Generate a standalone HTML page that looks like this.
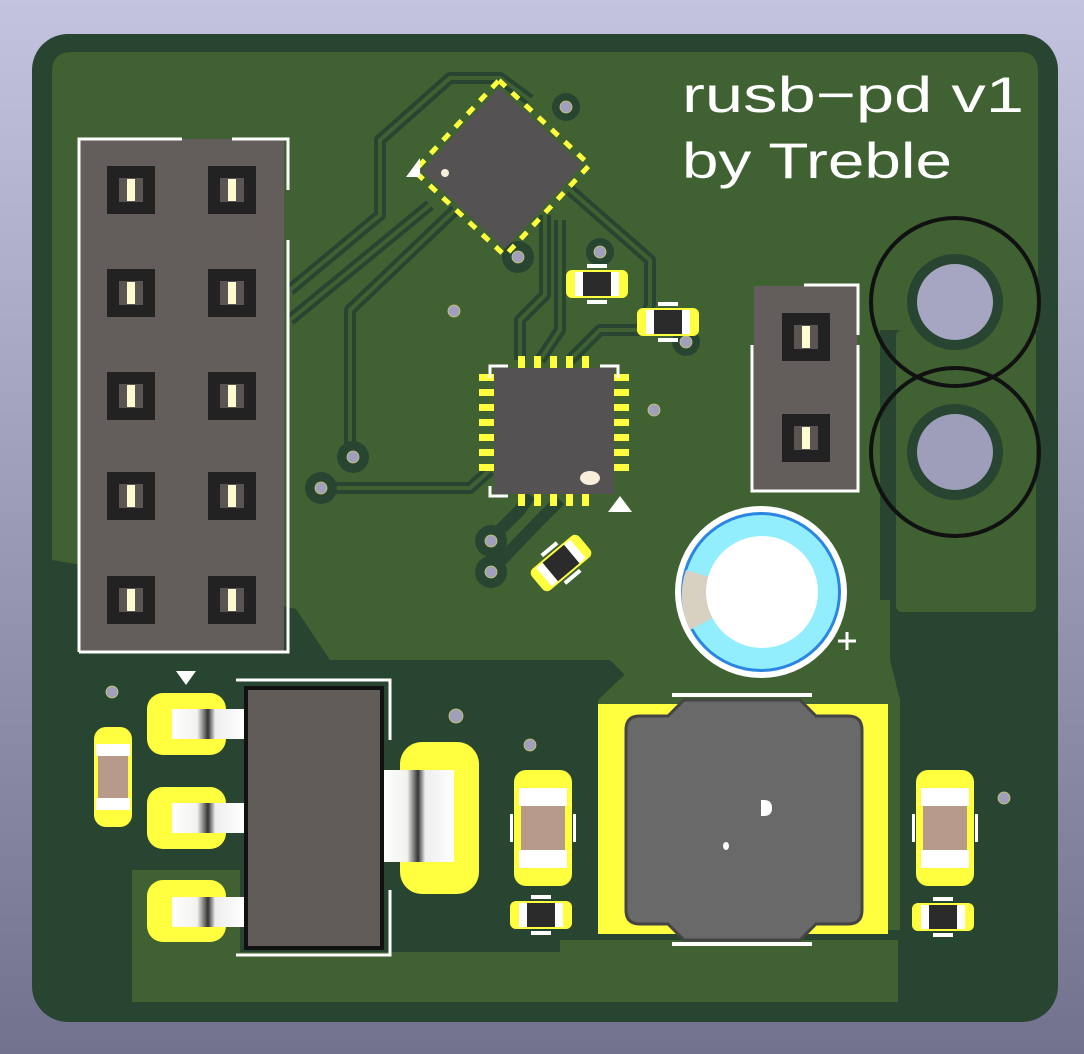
<!DOCTYPE html>
<html><head><meta charset="utf-8"><style>
html,body{margin:0;padding:0;width:1084px;height:1054px;overflow:hidden;background:linear-gradient(#c2c2de,#72728e);}
svg{display:block}
</style></head><body>
<svg width="1084" height="1054" viewBox="0 0 1084 1054" xmlns="http://www.w3.org/2000/svg">
<defs>
<linearGradient id="bg" x1="0" y1="0" x2="0" y2="1"><stop offset="0" stop-color="#c3c3df"/><stop offset="1" stop-color="#72728e"/></linearGradient>
<linearGradient id="tab" x1="0" y1="0" x2="1" y2="0"><stop offset="0" stop-color="#fff"/><stop offset="0.35" stop-color="#f2f2ee"/><stop offset="0.5" stop-color="#333"/><stop offset="0.6" stop-color="#eee"/><stop offset="1" stop-color="#fff"/></linearGradient>
<g id="pin"><rect x="-24" y="-24" width="48" height="48" fill="#222"/><rect x="-12" y="-12" width="24" height="24" fill="#5a5552"/><rect x="-4" y="-11" width="8" height="22" fill="#fffbd0"/></g>
<g id="sc">
<rect x="-31" y="-14" width="62" height="28" rx="6" fill="#ffff40"/>
<rect x="-22" y="-12" width="44" height="24" fill="#fff"/>
<rect x="-14" y="-12" width="28" height="24" fill="#2b2b2b"/>
<rect x="-10" y="-20" width="20" height="4" fill="#fff"/><rect x="-10" y="16" width="20" height="4" fill="#fff"/>
</g>
<g id="rr">
<rect x="-29" y="-58" width="58" height="116" rx="12" fill="#ffff40"/>
<rect x="-24" y="-40" width="48" height="18" fill="#fff"/><rect x="-24" y="22" width="48" height="18" fill="#fff"/>
<rect x="-22" y="-22" width="44" height="44" fill="#b89a8a"/>
<rect x="-33" y="-14" width="3" height="28" fill="#fff"/><rect x="30" y="-14" width="3" height="28" fill="#fff"/>
</g>
</defs>
<rect width="1084" height="1054" fill="url(#bg)"/>
<!-- board -->
<rect x="32" y="34" width="1026" height="988" rx="36" fill="#274530"/>
<!-- light copper fills -->
<path d="M52 72 Q52 52 72 52 L1020 52 Q1038 52 1038 72 L1038 330 L880 330 L880 600 L700 660 L330 660 L290 600 L52 560 Z" fill="#406233"/>
<path d="M52 72 L52 550 L300 610 L330 640 L590 640 L640 690 L890 690 L890 600 L700 600 L700 330 L52 330Z" fill="#406233"/>
<rect x="896" y="330" width="140" height="282" rx="6" fill="#406233"/>
<path d="M290 600 L330 640 L600 640 L650 700 L890 700 L890 640 L860 600 Z" fill="#406233"/>
<path d="M132 870 L240 870 L240 952 L560 952 L560 940 L898 940 L898 1002 L132 1002 Z" fill="#406233"/>
<path d="M598 700 L640 660 L890 660 L900 700 L900 930 L598 930Z" fill="#406233"/>
<!-- dark channels (trace clearances) -->
<g fill="none" stroke="#274530" stroke-width="12" stroke-linejoin="round">
<path d="M290 290 L380 215 L380 140 L450 78 L500 78 L530 100"/>
<path d="M290 320 L430 205"/>
<path d="M350 460 L350 310 L455 210"/>
<path d="M320 488 L470 488 L490 470"/>
<path d="M520 360 L520 320 L545 295 L545 215"/>
<path d="M540 360 L560 330 L560 220"/>
<path d="M570 360 L600 330 L640 330 L650 305 L650 260 L570 190"/>
<path d="M490 540 L520 510 L530 495"/>
<path d="M490 572 L540 520 L560 500"/>
</g>
<g fill="none" stroke="#406233" stroke-width="4">
<path d="M290 290 L380 215 L380 140 L450 78 L500 78 L530 100"/>
<path d="M290 320 L430 205"/>
<path d="M350 460 L350 310 L455 210"/>
<path d="M320 488 L470 488 L490 470"/>
<path d="M520 360 L520 320 L545 295 L545 215"/>
<path d="M540 360 L560 330 L560 220"/>
<path d="M570 360 L600 330 L640 330 L650 305 L650 260 L570 190"/>
</g>
<!-- vias -->
<g fill="#274530"><circle cx="566" cy="107" r="14"/><circle cx="518" cy="257" r="16"/><circle cx="600" cy="252" r="14"/><circle cx="686" cy="342" r="14"/><circle cx="353" cy="457" r="16"/><circle cx="321" cy="488" r="16"/><circle cx="491" cy="541" r="16"/><circle cx="491" cy="572" r="16"/></g>
<g fill="#a0a0bc" stroke="#cccc66" stroke-width="0.8">
<circle cx="566" cy="107" r="6"/><circle cx="518" cy="257" r="6"/><circle cx="600" cy="252" r="6"/><circle cx="454" cy="311" r="6"/><circle cx="686" cy="342" r="6"/><circle cx="654" cy="410" r="6"/><circle cx="353" cy="457" r="6"/><circle cx="321" cy="488" r="6"/><circle cx="491" cy="541" r="6"/><circle cx="491" cy="572" r="6"/><circle cx="112" cy="692" r="6"/><circle cx="456" cy="716" r="7"/><circle cx="530" cy="745" r="6"/><circle cx="1004" cy="798" r="6"/>
</g>
<!-- 2x5 header -->
<rect x="79" y="139" width="205" height="512" fill="#635e5b"/>
<path d="M79 652 L79 139 L182 139 M232 139 L288 139 L288 190 M288 240 L288 652 L79 652" fill="none" stroke="#fff" stroke-width="3"/>
<use href="#pin" x="131" y="190"/><use href="#pin" x="232" y="190"/>
<use href="#pin" x="131" y="293"/><use href="#pin" x="232" y="293"/>
<use href="#pin" x="131" y="396"/><use href="#pin" x="232" y="396"/>
<use href="#pin" x="131" y="496"/><use href="#pin" x="232" y="496"/>
<use href="#pin" x="131" y="600"/><use href="#pin" x="232" y="600"/>
<!-- 1x2 header -->
<rect x="754" y="286" width="103" height="205" fill="#635e5b"/>
<path d="M804 285 L858 285 L858 335 M858 345 L858 491 L752 491 L752 345" fill="none" stroke="#fff" stroke-width="3"/>
<use href="#pin" x="806" y="337"/><use href="#pin" x="806" y="438"/>
<!-- mount holes -->
<circle cx="955" cy="302" r="48" fill="#274530"/><circle cx="955" cy="302" r="38" fill="#a6a6c2"/>
<circle cx="955" cy="452" r="48" fill="#274530"/><circle cx="955" cy="452" r="38" fill="#9e9eba"/>
<circle cx="955" cy="302" r="84" fill="none" stroke="#111" stroke-width="4"/>
<circle cx="955" cy="452" r="84" fill="none" stroke="#111" stroke-width="4"/>
<!-- text -->
<text x="682" y="112" font-family="Liberation Sans, sans-serif" font-size="50" fill="#fff" textLength="342" lengthAdjust="spacingAndGlyphs">rusb−pd v1</text>
<text x="682" y="178" font-family="Liberation Sans, sans-serif" font-size="50" fill="#fff" textLength="270" lengthAdjust="spacingAndGlyphs">by Treble</text>
<!-- diamond IC -->
<g transform="translate(502,168) rotate(43)">
<rect x="-62" y="-62" width="124" height="124" fill="none" stroke="#ffff40" stroke-width="5" stroke-dasharray="9 9"/>
<rect x="-57" y="-57" width="114" height="114" fill="#555253"/>
</g>
<circle cx="445" cy="173" r="4" fill="#f8eedc"/>
<path d="M406 177 L420 158 L420 177Z" fill="#fff"/>
<!-- QFN -->
<g fill="#ffff40">
<rect x="518" y="356" width="7" height="14"/><rect x="534" y="356" width="7" height="14"/><rect x="550" y="356" width="7" height="14"/><rect x="566" y="356" width="7" height="14"/><rect x="582" y="356" width="7" height="14"/>
<rect x="518" y="492" width="7" height="14"/><rect x="534" y="492" width="7" height="14"/><rect x="550" y="492" width="7" height="14"/><rect x="566" y="492" width="7" height="14"/><rect x="582" y="492" width="7" height="14"/>
<rect x="479" y="374" width="16" height="7"/><rect x="479" y="389" width="16" height="7"/><rect x="479" y="404" width="16" height="7"/><rect x="479" y="419" width="16" height="7"/><rect x="479" y="434" width="16" height="7"/><rect x="479" y="449" width="16" height="7"/><rect x="479" y="464" width="16" height="7"/>
<rect x="613" y="374" width="16" height="7"/><rect x="613" y="389" width="16" height="7"/><rect x="613" y="404" width="16" height="7"/><rect x="613" y="419" width="16" height="7"/><rect x="613" y="434" width="16" height="7"/><rect x="613" y="449" width="16" height="7"/><rect x="613" y="464" width="16" height="7"/>
</g>
<rect x="494" y="368" width="120" height="126" fill="#555253"/>
<path d="M490 378 L490 366 L508 366 M600 366 L618 366 L618 378 M490 486 L490 496 L508 496" fill="none" stroke="#fff" stroke-width="3"/>
<ellipse cx="590" cy="478" rx="10" ry="7" fill="#f8eedc"/>
<path d="M608 512 L620 496 L632 512Z" fill="#fff"/>
<!-- small caps -->
<use href="#sc" x="597" y="284"/><use href="#sc" x="668" y="322"/>
<use href="#sc" transform="translate(561,563) rotate(-40)"/>
<use href="#sc" x="541" y="915"/><use href="#sc" x="943" y="917"/>
<!-- electrolytic cap -->
<circle cx="761" cy="592" r="86" fill="#fff"/>
<circle cx="761" cy="592" r="80" fill="#2a86e0"/>
<circle cx="761" cy="592" r="77" fill="#92eefc"/>
<path d="M761 592 L686 570 A76 76 0 0 0 690 630Z" fill="#d8d0c0"/>
<circle cx="762" cy="592" r="56" fill="#fff"/>
<path d="M838 641 L856 641 M847 632 L847 650" stroke="#fff" stroke-width="3"/>
<!-- SOT-223 regulator -->
<g fill="#ffff40">
<rect x="147" y="693" width="79" height="62" rx="16"/><rect x="147" y="787" width="79" height="62" rx="16"/><rect x="147" y="880" width="79" height="62" rx="16"/>
<rect x="400" y="742" width="79" height="152" rx="22"/>
<rect x="94" y="727" width="38" height="100" rx="12"/>
</g>
<rect x="172" y="709" width="72" height="30" fill="url(#tab)"/>
<rect x="172" y="803" width="72" height="30" fill="url(#tab)"/>
<rect x="172" y="897" width="72" height="30" fill="url(#tab)"/>
<rect x="382" y="770" width="72" height="92" fill="url(#tab)"/>
<rect x="244" y="686" width="140" height="264" fill="#111"/>
<rect x="248" y="690" width="132" height="256" fill="#625c59"/>
<path d="M236 680 L390 680 L390 740 M390 890 L390 955 L236 955" fill="none" stroke="#fff" stroke-width="3"/>
<path d="M176 671 L196 671 L186 685Z" fill="#fff"/>
<!-- resistors -->
<rect x="96" y="744" width="34" height="12" fill="#fff"/><rect x="96" y="798" width="34" height="12" fill="#fff"/>
<rect x="98" y="756" width="30" height="42" fill="#b89a8a"/>
<use href="#rr" x="543" y="828"/><use href="#rr" x="945" y="828"/>
<!-- inductor -->
<rect x="598" y="704" width="290" height="230" fill="#ffff40"/>
<path d="M640 716 L668 716 L684 700 L800 700 L816 716 L848 716 Q862 716 862 730 L862 910 Q862 924 848 924 L816 924 L800 940 L684 940 L668 924 L640 924 Q626 924 626 910 L626 730 Q626 716 640 716Z" fill="#696969" stroke="#444" stroke-width="3"/>
<path d="M672 695 L812 695 M672 944 L812 944" stroke="#fff" stroke-width="4"/>
<path d="M761 800 L764 800 Q772 800 772 808 Q772 816 764 816 L761 816Z" fill="#fff"/>
<ellipse cx="726" cy="846" rx="3" ry="4" fill="#fff"/>
</svg>
</body></html>
